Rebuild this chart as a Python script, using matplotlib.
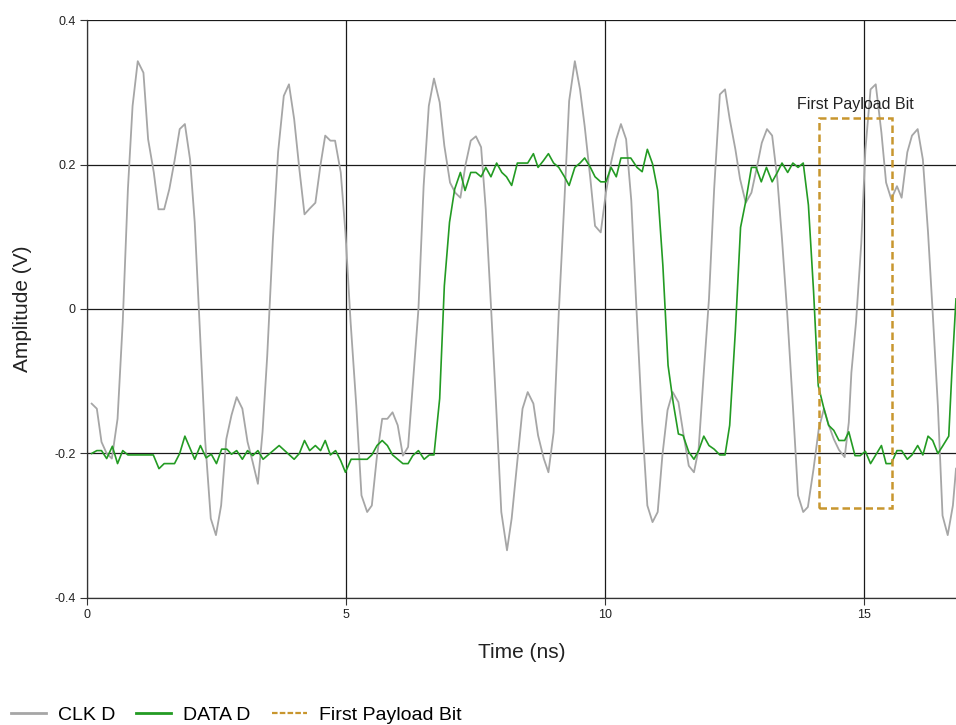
import matplotlib
matplotlib.use("Agg")
import matplotlib.pyplot as plt
from matplotlib.lines import Line2D
from matplotlib.patches import Rectangle
from matplotlib.ticker import FuncFormatter

plt.rcParams['font.family'] = ['Liberation Sans', 'DejaVu Sans']

# Clock channel samples (ns, V)
clk_t = [0.09, 0.19, 0.28, 0.38, 0.48, 0.59, 0.69, 0.79, 0.88, 0.98,
         1.09, 1.18, 1.29, 1.38, 1.49, 1.59, 1.69, 1.79, 1.89, 1.99,
         2.08, 2.18, 2.28, 2.39, 2.49, 2.59, 2.69, 2.79, 2.89, 3.00,
         3.10, 3.20, 3.30, 3.39, 3.48, 3.59, 3.69, 3.80, 3.90, 4.00,
         4.10, 4.20, 4.30, 4.41, 4.51, 4.60, 4.70, 4.79, 4.90, 4.99,
         5.09, 5.20, 5.30, 5.41, 5.50, 5.60, 5.70, 5.80, 5.90, 6.00,
         6.10, 6.20, 6.29, 6.40, 6.50, 6.60, 6.70, 6.81, 6.90, 7.01,
         7.11, 7.21, 7.31, 7.41, 7.51, 7.61, 7.70, 7.80, 7.90, 8.00,
         8.11, 8.20, 8.30, 8.41, 8.51, 8.62, 8.71, 8.82, 8.91, 9.01,
         9.11, 9.22, 9.31, 9.42, 9.52, 9.61, 9.72, 9.81, 9.92, 10.02,
         10.12, 10.22, 10.31, 10.41, 10.51, 10.61, 10.72, 10.82, 10.92, 11.02,
         11.11, 11.21, 11.31, 11.42, 11.51, 11.62, 11.72, 11.81, 11.91, 12.01,
         12.11, 12.22, 12.32, 12.41, 12.52, 12.61, 12.72, 12.83, 12.94, 13.03,
         13.13, 13.23, 13.33, 13.42, 13.52, 13.63, 13.73, 13.83, 13.92, 14.03,
         14.13, 14.23, 14.32, 14.42, 14.52, 14.63, 14.71, 14.76, 14.85, 14.95,
         15.03, 15.13, 15.23, 15.34, 15.43, 15.53, 15.64, 15.73, 15.84, 15.93,
         16.04, 16.14, 16.24, 16.33, 16.43, 16.52, 16.62, 16.72, 16.78]
clk_v = [-0.131, -0.138, -0.184, -0.200, -0.207, -0.152, -0.018, 0.166, 0.281, 0.343,
         0.327, 0.235, 0.189, 0.138, 0.138, 0.166, 0.205, 0.249, 0.256, 0.207,
         0.120, -0.030, -0.180, -0.290, -0.313, -0.272, -0.180, -0.147, -0.122, -0.138,
         -0.184, -0.212, -0.242, -0.170, -0.065, 0.097, 0.217, 0.295, 0.311, 0.263,
         0.194, 0.131, 0.139, 0.147, 0.200, 0.240, 0.233, 0.233, 0.189, 0.106,
         -0.018, -0.134, -0.258, -0.281, -0.272, -0.203, -0.152, -0.152, -0.143, -0.161,
         -0.203, -0.191, -0.106, 0.000, 0.170, 0.281, 0.319, 0.286, 0.226, 0.175,
         0.161, 0.154, 0.200, 0.233, 0.239, 0.224, 0.138, 0.005, -0.134, -0.281,
         -0.334, -0.290, -0.217, -0.138, -0.115, -0.131, -0.175, -0.207, -0.226, -0.171,
         -0.005, 0.152, 0.288, 0.343, 0.304, 0.253, 0.180, 0.115, 0.106, 0.161,
         0.203, 0.235, 0.256, 0.235, 0.150, 0.000, -0.157, -0.272, -0.295, -0.281,
         -0.203, -0.140, -0.115, -0.129, -0.170, -0.217, -0.226, -0.194, -0.088, 0.014,
         0.166, 0.297, 0.304, 0.263, 0.221, 0.180, 0.147, 0.161, 0.198, 0.230,
         0.249, 0.240, 0.180, 0.097, -0.005, -0.134, -0.258, -0.281, -0.274, -0.221,
         -0.166, -0.138, -0.160, -0.180, -0.195, -0.205, -0.157, -0.088, -0.018, 0.090,
         0.220, 0.304, 0.311, 0.244, 0.175, 0.152, 0.170, 0.154, 0.217, 0.240,
         0.249, 0.207, 0.106, -0.005, -0.134, -0.286, -0.313, -0.272, -0.221]

# Data channel samples (ns, V)
data_t = [0.09, 0.19, 0.28, 0.38, 0.49, 0.59, 0.69, 0.79, 0.89, 0.99,
          1.09, 1.18, 1.28, 1.39, 1.49, 1.59, 1.69, 1.79, 1.89, 1.99,
          2.08, 2.19, 2.30, 2.40, 2.50, 2.60, 2.70, 2.79, 2.89, 3.00,
          3.10, 3.20, 3.30, 3.40, 3.71, 4.00, 4.10, 4.20, 4.30, 4.41,
          4.51, 4.60, 4.70, 4.80, 4.90, 4.99, 5.10, 5.41, 5.50, 5.60,
          5.70, 5.80, 5.90, 6.00, 6.10, 6.20, 6.29, 6.40, 6.51, 6.61,
          6.70, 6.81, 6.90, 7.00, 7.10, 7.21, 7.30, 7.41, 7.51, 7.61,
          7.70, 7.80, 7.91, 8.01, 8.10, 8.20, 8.31, 8.40, 8.51, 8.62,
          8.71, 8.81, 8.91, 9.01, 9.11, 9.22, 9.31, 9.42, 9.52, 9.61,
          9.72, 9.81, 9.92, 10.02, 10.12, 10.22, 10.31, 10.50, 10.62, 10.72,
          10.82, 10.92, 11.02, 11.12, 11.22, 11.32, 11.42, 11.51, 11.62, 11.72,
          11.81, 11.91, 12.01, 12.11, 12.22, 12.32, 12.41, 12.52, 12.62, 12.72,
          12.83, 12.92, 13.02, 13.12, 13.23, 13.33, 13.42, 13.53, 13.63, 13.73,
          13.83, 13.93, 14.03, 14.12, 14.23, 14.32, 14.42, 14.52, 14.63, 14.71,
          14.83, 14.93, 15.03, 15.13, 15.23, 15.34, 15.43, 15.53, 15.64, 15.73,
          15.84, 15.93, 16.04, 16.14, 16.24, 16.33, 16.43, 16.52, 16.64, 16.70,
          16.78]
data_v = [-0.200, -0.196, -0.196, -0.207, -0.190, -0.214, -0.196, -0.202, -0.202, -0.202,
          -0.202, -0.202, -0.202, -0.221, -0.214, -0.214, -0.214, -0.200, -0.176, -0.193,
          -0.208, -0.189, -0.206, -0.201, -0.214, -0.194, -0.194, -0.201, -0.196, -0.208,
          -0.196, -0.203, -0.196, -0.208, -0.189, -0.208, -0.200, -0.182, -0.196, -0.189,
          -0.196, -0.182, -0.202, -0.196, -0.210, -0.226, -0.208, -0.208, -0.202, -0.189,
          -0.182, -0.189, -0.202, -0.208, -0.214, -0.214, -0.203, -0.196, -0.208, -0.202,
          -0.202, -0.124, 0.032, 0.120, 0.166, 0.189, 0.164, 0.189, 0.189, 0.183,
          0.196, 0.183, 0.202, 0.189, 0.183, 0.171, 0.202, 0.202, 0.202, 0.215,
          0.196, 0.205, 0.215, 0.202, 0.196, 0.183, 0.171, 0.196, 0.202, 0.209,
          0.196, 0.183, 0.176, 0.176, 0.196, 0.183, 0.209, 0.209, 0.196, 0.190,
          0.221, 0.201, 0.164, 0.060, -0.078, -0.130, -0.173, -0.175, -0.198, -0.208,
          -0.196, -0.176, -0.189, -0.194, -0.202, -0.202, -0.161, -0.030, 0.113, 0.149,
          0.196, 0.196, 0.176, 0.196, 0.176, 0.189, 0.202, 0.189, 0.202, 0.196,
          0.202, 0.144, 0.024, -0.106, -0.138, -0.161, -0.168, -0.182, -0.182, -0.170,
          -0.203, -0.203, -0.197, -0.214, -0.202, -0.189, -0.214, -0.214, -0.196, -0.196,
          -0.208, -0.202, -0.189, -0.202, -0.176, -0.182, -0.200, -0.190, -0.176, -0.088,
          0.014]

# Highlight window around the first payload bit
payload_t = [14.13, 15.55]
payload_v = [-0.275, 0.265]
payload_label = "First Payload Bit"

x_ticks = [0, 5, 10, 15]
y_ticks = [-0.4, -0.2, 0, 0.2, 0.4]

clk_color = "#a6a6a6"
data_color = "#239b23"
box_color = "#c8962e"

fig = plt.figure(figsize=(9.56, 7.25), dpi=100)
ax = fig.add_axes([0.091, 0.1752, 0.909, 0.7972])

ax.plot(clk_t, clk_v, color=clk_color, lw=1.3, label="CLK D", zorder=3)
ax.plot(data_t, data_v, color=data_color, lw=1.2, label="DATA D", zorder=4)

box = Rectangle((payload_t[0], payload_v[0]), payload_t[1] - payload_t[0],
                payload_v[1] - payload_v[0], fill=False, edgecolor=box_color,
                lw=1.8, ls=(0, (3, 1.6)), zorder=5)
ax.add_patch(box)
ax.text((payload_t[0] + payload_t[1]) / 2, payload_v[1] + 0.007, payload_label,
        ha="center", va="bottom", fontsize=11.5, color="#222222", zorder=6)

ax.set_xlim(0, 16.78)
ax.set_ylim(-0.4, 0.4)
ax.set_xticks(x_ticks)
ax.set_yticks(y_ticks)
ax.yaxis.set_major_formatter(FuncFormatter(lambda v, p: "0" if abs(v) < 1e-9 else f"{v:g}"))
ax.tick_params(axis="both", labelsize=9, length=5, width=0.8, color="#333333",
               labelcolor="#222222", pad=3)
ax.grid(True, color="#1a1a1a", lw=0.9, zorder=1)
ax.set_axisbelow(True)
for side in ("top", "right"):
    ax.spines[side].set_visible(False)
for side in ("left", "bottom"):
    ax.spines[side].set_color("#333333")
    ax.spines[side].set_linewidth(0.9)

ax.set_xlabel("Time (ns)", fontsize=15, labelpad=16, color="#222222")
ax.set_ylabel("Amplitude (V)", fontsize=15, labelpad=16, color="#222222")

handles = [Line2D([], [], color=clk_color, lw=2),
           Line2D([], [], color=data_color, lw=2),
           Line2D([], [], color=box_color, lw=1.6, ls=(0, (2.5, 1)))]
fig.legend(handles, ["CLK D", "DATA D", payload_label], loc="center left",
           bbox_to_anchor=(11 / 956, 1 - 715 / 725), ncol=3, frameon=False,
           fontsize=14, handlelength=1.8, handletextpad=0.6, columnspacing=1.1,
           borderpad=0, borderaxespad=0)

fig.savefig("out.png", dpi=100)
